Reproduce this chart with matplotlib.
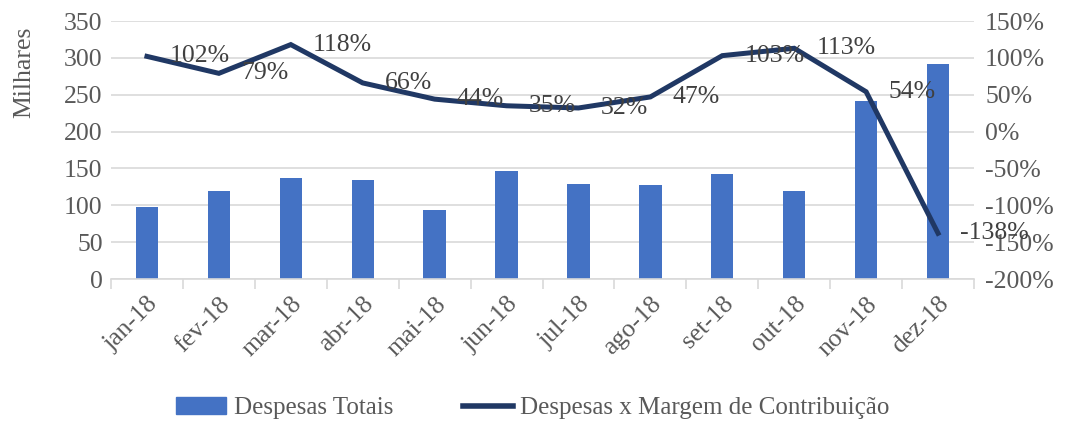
import numpy as np
import matplotlib

matplotlib.use("Agg")
import matplotlib.pyplot as plt
from matplotlib.patches import Patch
from matplotlib.lines import Line2D

plt.rcParams.update({
    "font.family": ["Liberation Serif", "DejaVu Serif"],
    "font.size": 18,
})

months = ["jan-18", "fev-18", "mar-18", "abr-18", "mai-18", "jun-18",
          "jul-18", "ago-18", "set-18", "out-18", "nov-18", "dez-18"]
despesas = [97, 120, 137, 134, 93, 146, 129, 127, 142, 120, 242, 292]
margem = [102, 79, 118, 66, 44, 35, 32, 47, 103, 113, 54, -138]

BAR = "#4472C4"
LINE = "#203864"
TICK = "#595959"
GRID = "#D9D9D9"
FS = 18.5

fig = plt.figure(figsize=(10.66, 4.21), dpi=100)
ax = fig.add_axes([111 / 1066, 1 - 279 / 421, 863 / 1066, 258 / 421])
x = np.arange(len(months))

ax.bar(x, despesas, width=0.31, color=BAR, zorder=2)
ax.set_xlim(-0.5, len(months) - 0.5)
ax.set_ylim(0, 350)
ax.set_yticks(np.arange(0, 351, 50))
ax.grid(axis="y", color=GRID, lw=1.2, zorder=0)
ax.set_axisbelow(True)
for s in ["top", "right", "left"]:
    ax.spines[s].set_visible(False)
ax.spines["bottom"].set_color(GRID)
ax.spines["bottom"].set_linewidth(1.2)
ax.tick_params(axis="y", length=0, colors=TICK, labelsize=FS, pad=6)
ax.set_xticks(x)
ax.set_xticklabels(months, rotation=45, ha="right", rotation_mode="anchor",
                   color=TICK, fontsize=FS)
ax.tick_params(axis="x", length=0, pad=10)
ax.set_xticks(np.arange(-0.5, len(months), 1), minor=True)
ax.tick_params(axis="x", which="minor", length=7, color=GRID, width=1.2)
ax.set_ylabel("Milhares", color=TICK, fontsize=FS)
ax.yaxis.set_label_coords(-0.088, 0.8)

ax2 = ax.twinx()
ax2.plot(x, margem, color=LINE, lw=3.6, solid_joinstyle="miter", zorder=3)
ax2.set_ylim(-200, 150)
ax2.set_yticks(np.arange(-200, 151, 50))
ax2.set_yticklabels([f"{v}%" for v in range(-200, 151, 50)])
ax2.tick_params(axis="y", length=0, colors=TICK, labelsize=FS, pad=8)
for s in ax2.spines.values():
    s.set_visible(False)
for xi, v in zip(x, margem):
    ax2.annotate(f"{v}%", (xi, v), xytext=(16, 0), textcoords="offset points",
                 ha="left", va="center", color="#404040", fontsize=FS)

handles = [Patch(color=BAR), Line2D([0], [0], color=LINE, lw=4)]
fig.legend(handles, ["Despesas Totais", "Despesas x Margem de Contribuição"],
           loc="center", bbox_to_anchor=(0.5, 1 - 408 / 421), ncol=2,
           frameon=False, fontsize=18, labelcolor=TICK, columnspacing=2.8,
           handlelength=2.0, handletextpad=0.3)

fig.savefig("out.png", dpi=100)
